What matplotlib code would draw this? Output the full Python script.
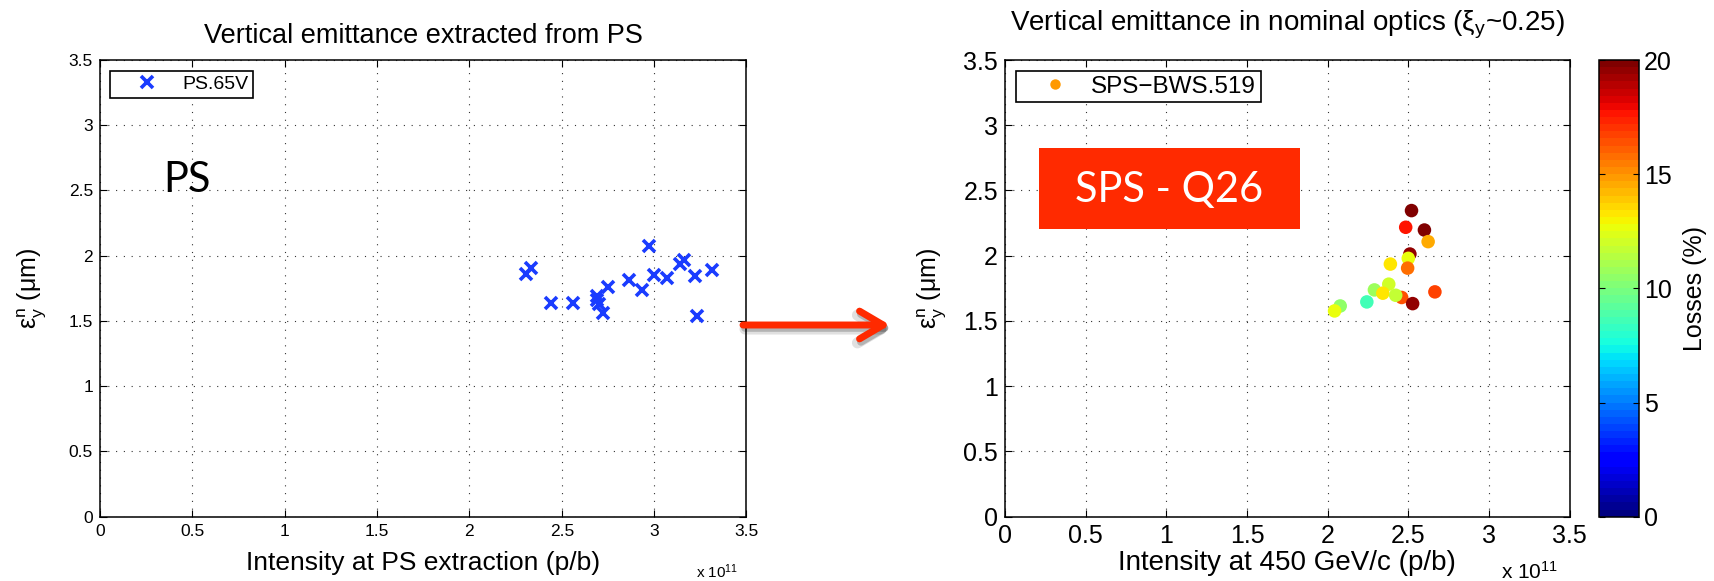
import matplotlib
matplotlib.use('Agg')
import matplotlib.pyplot as plt
from matplotlib.lines import Line2D
from matplotlib.patches import FancyArrowPatch, Rectangle

plt.rcParams['font.family'] = ['Liberation Sans', 'DejaVu Sans']
plt.rcParams['mathtext.default'] = 'regular'

# PS.65V wire scanner: intensity (x 1e11 p/b) and normalised vertical emittance (um)
ps_intensity = [2.307, 2.332, 2.44, 2.563, 2.69, 2.69, 2.70, 2.723, 2.75, 2.862,
                2.934, 2.97, 2.997, 3.07, 3.142, 3.164, 3.22, 3.232, 3.315]
ps_emit = [1.862, 1.906, 1.635, 1.638, 1.69, 1.66, 1.63, 1.561, 1.758, 1.811,
           1.735, 2.077, 1.849, 1.829, 1.936, 1.969, 1.842, 1.541, 1.893]

# SPS-BWS.519 at 450 GeV/c, coloured by losses (%)
sps_intensity = [2.52, 2.484, 2.60, 2.623, 2.51, 2.50, 2.389, 2.496, 2.379, 2.29,
                 2.342, 2.459, 2.422, 2.527, 2.665, 2.243, 2.078, 2.043]
sps_emit = [2.346, 2.218, 2.197, 2.108, 2.013, 1.98, 1.936, 1.905, 1.782, 1.738,
            1.713, 1.68, 1.697, 1.633, 1.723, 1.646, 1.615, 1.577]
sps_losses = [20.0, 17.5, 20.0, 14.5, 19.5, 12.8, 13.2, 15.8, 12.0, 10.9,
              13.3, 16.5, 11.6, 19.5, 16.8, 8.5, 10.6, 12.5]

axis_ticks = [0, 0.5, 1, 1.5, 2, 2.5, 3, 3.5]
axis_ticklabels = ['0', '0.5', '1', '1.5', '2', '2.5', '3', '3.5']
cbar_ticks = [0, 5, 10, 15, 20]

W, H = 1715, 581
def fx(px):
    return px / W
def fy(py):
    return 1 - py / H

fig = plt.figure(figsize=(W / 100, H / 100), dpi=100)
ax1 = fig.add_axes([fx(100), fy(516.7), 646.5 / W, 456.7 / H])
ax2 = fig.add_axes([fx(1005), fy(516.7), 564.6 / W, 456.7 / H])
cax = fig.add_axes([fx(1599), fy(516.7), 40 / W, 456.7 / H])

blue = '#1a3cff'
red = '#ff2a00'
grid_style = dict(linestyle=(0, (1, 6)), color='#333333', linewidth=0.8)

def style_axes(ax, fs):
    ax.set_xlim(0, 3.5)
    ax.set_ylim(0, 3.5)
    ax.set_xticks(axis_ticks)
    ax.set_xticklabels(axis_ticklabels)
    ax.set_yticks(axis_ticks)
    ax.set_yticklabels(axis_ticklabels)
    ax.grid(True, **grid_style)
    ax.set_axisbelow(True)
    ax.tick_params(direction='in', length=5, width=0.8, top=True, right=True,
                   labelsize=fs, pad=5)
    for s in ax.spines.values():
        s.set_linewidth(1.1)

# left panel
ax1.plot(ps_intensity, ps_emit, ls='none', marker='x', ms=9, mew=2.6,
         color=blue, label='PS.65V')
style_axes(ax1, 12.5)
ax1.set_title('Vertical emittance extracted from PS', fontsize=19.5, pad=12.5)
ax1.set_xlabel('Intensity at PS extraction (p/b)', fontsize=19, labelpad=9)
ax1.set_ylabel('$ε_y^n$ (μm)', fontsize=18, labelpad=14)
leg1 = ax1.legend(loc='upper left', bbox_to_anchor=(10 / 646.5, 1 - 10.7 / 456.7),
                  borderaxespad=0, fancybox=False, edgecolor='k', framealpha=1,
                  fontsize=14, borderpad=0.25, handlelength=3.3, handletextpad=0.15)
leg1.get_frame().set_linewidth(1.2)
ax1.text(0.47, 2.58, 'PS', fontsize=30, family=['Lato', 'DejaVu Sans'],
         ha='center', va='center')
fig.text(fx(717), fy(572), 'x $10^{11}$', fontsize=11, ha='center', va='center')

# right panel
cmap = plt.get_cmap('jet', 64)
sc = ax2.scatter(sps_intensity, sps_emit, c=sps_losses, cmap=cmap, vmin=0, vmax=20,
                 s=95, edgecolors='none', zorder=3)
style_axes(ax2, 18)
ax2.set_title('Vertical emittance in nominal optics ($ξ_y$~0.25)', fontsize=20, pad=21)
ax2.set_xlabel('Intensity at 450 GeV/c (p/b)', fontsize=20, labelpad=1.5)
ax2.set_ylabel('$ε_y^n$ (μm)', fontsize=18, labelpad=10)
proxy = Line2D([], [], ls='none', marker='o', ms=7.5, color='#ff9900', mec='none')
leg2 = ax2.legend([proxy], ['SPS\u2212BWS.519'], loc='upper left',
                  bbox_to_anchor=(10.8 / 564.6, 1 - 10.7 / 456.7), borderaxespad=0,
                  fancybox=False, edgecolor='k', framealpha=1, fontsize=17.5,
                  borderpad=0.2, handlelength=2.8, handletextpad=0.1)
leg2.get_frame().set_linewidth(1.2)
fig.text(fx(1530), fy(572), 'x $10^{11}$', fontsize=15, ha='center', va='center')

cb = fig.colorbar(sc, cax=cax, ticks=cbar_ticks)
cb.set_label('Losses (%)', fontsize=18, labelpad=8)
cb.ax.tick_params(direction='in', length=4, width=0.8, labelsize=18, left=True, right=True)
cb.outline.set_linewidth(1.1)

# red "SPS - Q26" box
fig.add_artist(Rectangle((fx(1039), fy(229)), 261 / W, 81 / H,
                         transform=fig.transFigure, facecolor=red, edgecolor='none'))
fig.text(fx(1169.5), fy(190), 'SPS - Q26', fontsize=30, color='white',
         family=['Lato', 'DejaVu Sans'], ha='center', va='center')

# arrow between panels, with a soft shadow
for dx, dy, col, a, lw in [(2, 4, '#000000', 0.12, 8), (2, 3, '#000000', 0.2, 5.5),
                           (0, 0, red, 1.0, 5)]:
    arr = FancyArrowPatch((fx(743 + dx), fy(325 + dy)), (fx(890 + dx), fy(325 + dy)),
                          transform=fig.transFigure,
                          arrowstyle='->,head_length=17,head_width=10',
                          mutation_scale=1, lw=lw, color=col, alpha=a,
                          shrinkA=0, shrinkB=0, capstyle='round', joinstyle='round')
    fig.add_artist(arr)

fig.savefig('out.png', dpi=100)
